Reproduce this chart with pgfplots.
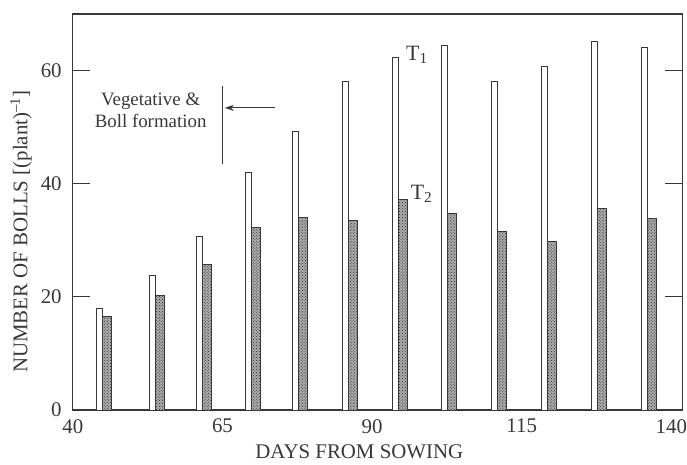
\documentclass[border=0pt]{standalone}
\usepackage{fontspec}
\setmainfont{Liberation Serif}
\usepackage{pgfplots}
\pgfplotsset{compat=1.18}
\usetikzlibrary{patterns,arrows.meta}
\definecolor{ink}{gray}{0.22}

\begin{document}
\begin{tikzpicture}
\begin{axis}[
  scale only axis, width=611bp, height=397bp,
  xmin=40, xmax=141.83, ymin=0, ymax=70,
  xtick={40,65,90,115,140}, ytick={0,20,40,60},
  xtick style={draw=none},
  ytick pos=both,
  major tick length=17bp,
  ytick style={line width=1bp, ink},
  axis line style={ink, line width=1.3bp},
  tick label style={font=\fontsize{21}{24}\selectfont, text=ink},
  /pgf/number format/assume math mode=true,
  yticklabel style={inner sep=0pt, xshift=-11bp},
  xticklabel style={inner sep=0pt, yshift=-9bp},
  xlabel={DAYS FROM SOWING},
  xlabel style={at={(axis description cs:0.47,0)}, anchor=north, inner sep=0pt,
    yshift=-35bp, font=\fontsize{21}{24}\selectfont, text=ink},
  ylabel={NUMBER OF BOLLS [(plant)\textsuperscript{--1}]},
  ylabel style={at={(axis description cs:-0.085,0.45)}, anchor=center,
    font=\fontsize{21}{24}\selectfont, text=ink},
  clip=false,
]
% T1: open bars
\addplot[ybar, bar width=6bp, bar shift=-3bp, draw=ink, fill=white, line width=0.9bp]
  coordinates {(45.0,18.0) (53.83,23.7) (61.67,30.6) (69.83,41.9) (77.67,49.3) (86.0,58.1)
               (94.33,62.4) (102.67,64.5) (111.0,58.1) (119.33,60.7) (127.67,65.1) (136.0,64.1)};
% T2: patterned bars
\addplot[ybar, bar width=9bp, bar shift=4.5bp, draw=ink, fill=gray!65, line width=0.9bp,
  postaction={pattern=crosshatch dots, pattern color=black!85}]
  coordinates {(45.0,16.5) (53.83,20.3) (61.67,25.7) (69.83,32.2) (77.67,34.1) (86.0,33.5)
               (94.33,37.2) (102.67,34.7) (111.0,31.6) (119.33,29.8) (127.67,35.7) (136.0,33.8)};

% phase marker
\draw[ink, line width=1bp] (axis cs:65,43.5) -- (axis cs:65,57.3);
\draw[ink, line width=1bp, -{Stealth[length=9bp,width=6bp]}] (axis cs:73.8,53.4) -- (axis cs:65.4,53.4);
\node[align=center, font=\fontsize{19}{22}\selectfont, text=ink] at (axis cs:53,52.9)
  {Vegetative \&\\Boll formation};

% treatment labels
\node[anchor=base west, inner sep=0pt, font=\fontsize{22}{24}\selectfont, text=ink]
  at (axis cs:95.67,61.85) {T\textsubscript{1}};
\node[anchor=base west, inner sep=0pt, font=\fontsize{22}{24}\selectfont, text=ink]
  at (axis cs:96.45,37.2) {T\textsubscript{2}};
\end{axis}
\path[use as bounding box] ([shift={(-73bp,-55bp)}]current axis.south west)
  rectangle ([shift={(3bp,14bp)}]current axis.north east);
\end{tikzpicture}
\end{document}
